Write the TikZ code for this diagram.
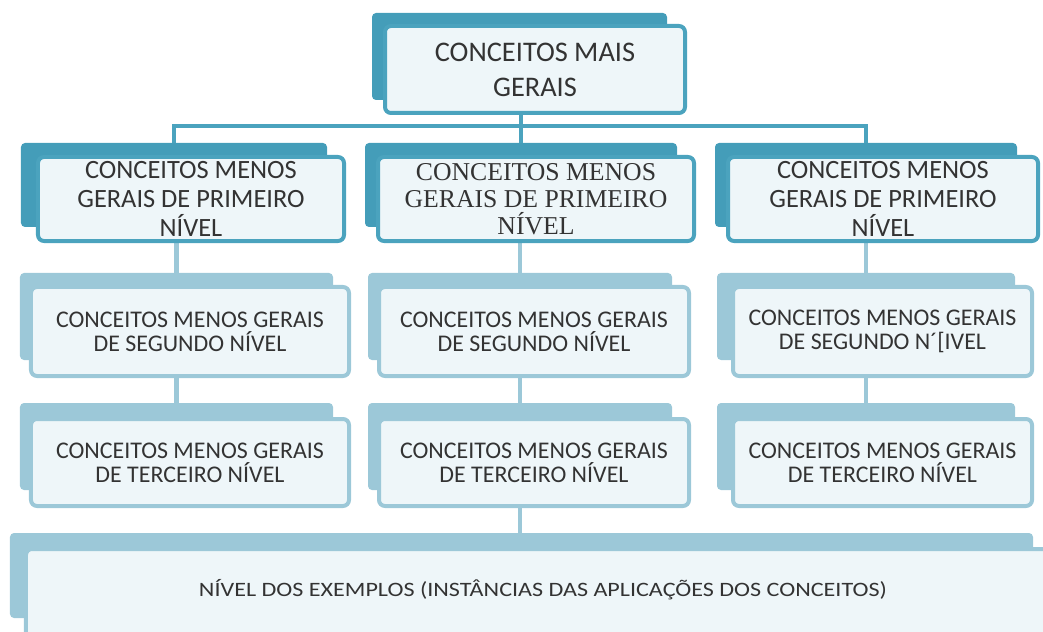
\documentclass[tikz,border=0pt]{standalone}
\usepackage{fontspec}
\setmainfont{Carlito}
\newfontfamily\serifbox{Liberation Serif}
\newfontfamily\widebox[FakeStretch=1.18]{Carlito}
\definecolor{tealdark}{HTML}{4BA3BE}
\definecolor{tealback}{HTML}{449DB9}
\definecolor{teallight}{HTML}{9CC8D8}
\definecolor{boxfill}{HTML}{EEF6F9}
\definecolor{inktext}{HTML}{333333}

\begin{document}
\begin{tikzpicture}[x=1bp,y=-1bp]

      \tikzset{backdark/.style={fill=tealback, rounded corners=4bp, inner sep=0pt},
               backlight/.style={fill=teallight, rounded corners=4bp, inner sep=0pt},
               frontdark/.style={draw=tealdark, line width=4bp, fill=boxfill, rounded corners=6bp, inner sep=0pt, align=center, text=inktext},
               frontlight/.style={draw=teallight, line width=4bp, fill=boxfill, rounded corners=6bp, inner sep=0pt, align=center, text=inktext},
               linkdark/.style={draw=tealdark, line width=4.5bp},
               linklight/.style={draw=teallight, line width=4.5bp},
               toptext/.style={font=\fontsize{28.5}{35}\selectfont},
               firsttext/.style={font=\fontsize{26.5}{29.5}\selectfont},
               lowtext/.style={font=\fontsize{24}{24}\selectfont}}
      \clip (0,0) rectangle (1043,632);
%% Back plates
      	\node[backdark, minimum width=295bp, minimum height=87bp] (b0) at (519.5,56.5) {};
      	\node[backdark, minimum width=306bp, minimum height=84bp] (b11) at (174,185) {};
      	\node[backdark, minimum width=312bp, minimum height=84bp] (b12) at (521,185) {};
      	\node[backdark, minimum width=302bp, minimum height=84bp] (b13) at (866,185) {};
      	\node[backlight, minimum width=313bp, minimum height=87bp] (b21) at (176.5,316.5) {};
      	\node[backlight, minimum width=304bp, minimum height=87bp] (b22) at (520,316.5) {};
      	\node[backlight, minimum width=298bp, minimum height=87bp] (b23) at (866,316.5) {};
      	\node[backlight, minimum width=313bp, minimum height=87bp] (b31) at (176.5,446.5) {};
      	\node[backlight, minimum width=304bp, minimum height=87bp] (b32) at (520,446.5) {};
      	\node[backlight, minimum width=298bp, minimum height=87bp] (b33) at (866,446.5) {};
      	\node[backlight, minimum width=1023bp, minimum height=85bp] (b4) at (521.5,575.5) {};
%Links
      	\coordinate (bus) at (520,126);
		\draw[linkdark] (b11) |- (bus) -| (b13);
		\draw[linkdark] (b12) -- (b12 |- b0);
		\draw[linklight] (b21) -- (b21 |- b11);
		\draw[linklight] (b22) -- (b22 |- b12);
		\draw[linklight] (b23) -- (b23 |- b13);
		\draw[linklight] (b31) -- (b31 |- b21);
		\draw[linklight] (b32) -- (b32 |- b22);
		\draw[linklight] (b33) -- (b33 |- b23);
		\draw[linklight] (b4 -| b32) -- (b32);
%% Front boxes
      	\node[frontdark, toptext, minimum width=300bp, minimum height=87bp] (f0) at (535,69.5) {CONCEITOS MAIS\\GERAIS};
      	\node[frontdark, firsttext, minimum width=306bp, minimum height=84bp] (f11) at (191,199) {CONCEITOS MENOS\\GERAIS DE PRIMEIRO\\NÍVEL};
      	\node[frontdark, font=\serifbox\fontsize{25.8}{27}\selectfont, minimum width=316bp, minimum height=84bp] (f12) at (536,199) {CONCEITOS MENOS\\GERAIS DE PRIMEIRO\\NÍVEL};
      	\node[frontdark, firsttext, minimum width=310bp, minimum height=84bp] (f13) at (883,199) {CONCEITOS MENOS\\GERAIS DE PRIMEIRO\\NÍVEL};
      	\node[frontlight, lowtext, minimum width=318bp, minimum height=89bp] (f21) at (190,331.5) {CONCEITOS MENOS GERAIS\\DE SEGUNDO NÍVEL};
      	\node[frontlight, lowtext, minimum width=310bp, minimum height=89bp] (f22) at (534,331.5) {CONCEITOS MENOS GERAIS\\DE SEGUNDO NÍVEL};
      	\node[frontlight, lowtext, minimum width=299bp, minimum height=89bp] (f23) at (882.5,331.5) {CONCEITOS MENOS GERAIS\\DE SEGUNDO N´[IVEL};
      	\node[frontlight, lowtext, minimum width=318bp, minimum height=87bp] (f31) at (190,462.5) {CONCEITOS MENOS GERAIS\\DE TERCEIRO NÍVEL};
      	\node[frontlight, lowtext, minimum width=310bp, minimum height=87bp] (f32) at (534,462.5) {CONCEITOS MENOS GERAIS\\DE TERCEIRO NÍVEL};
      	\node[frontlight, lowtext, minimum width=299bp, minimum height=87bp] (f33) at (882.5,462.5) {CONCEITOS MENOS GERAIS\\DE TERCEIRO NÍVEL};
      	\node[frontlight, minimum width=1034bp, minimum height=101bp,
      	      label={[yshift=9.5bp, text=inktext, font=\widebox\fontsize{20.5}{22}\selectfont]center:NÍVEL DOS EXEMPLOS (INSTÂNCIAS DAS APLICAÇÕES DOS CONCEITOS)}] (f4) at (543,599.5) {};

	\end{tikzpicture}
\end{document}
